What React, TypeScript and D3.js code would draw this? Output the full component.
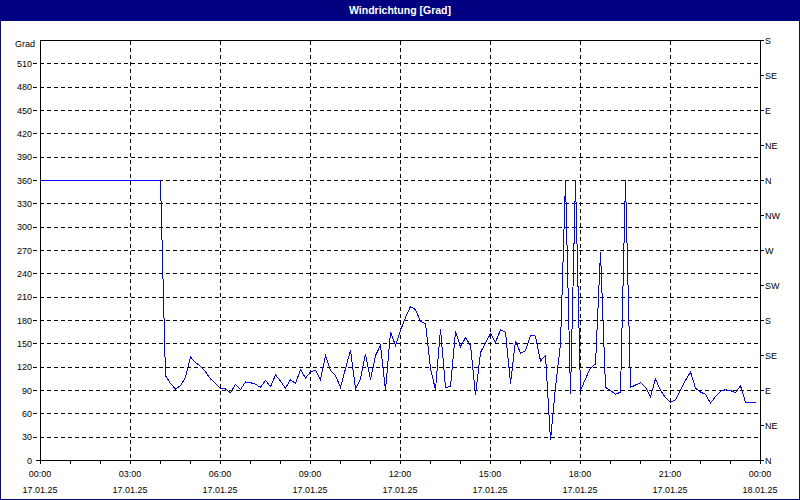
import React from "react";
import * as d3 from "d3";

const W = 800;
const H = 500;

const title = "Windrichtung [Grad]";
const unitLabel = "Grad";
const startTime = new Date(2025, 0, 17, 0, 0);
const endTime = new Date(2025, 0, 18, 0, 0);
const sampleMinutes = 10;

// wind direction in degrees, one value every 10 minutes from 00:00
const directionValues: number[] = [
  360, 360, 360, 360, 360, 360, 360, 360, 360, 360, 360, 360, 360, 360, 360, 360, 360, 360, 360, 360, 360, 360, 360, 360, 360,
  109, 99, 92, 96, 107, 133, 126, 121, 114, 105, 99, 93, 92, 87, 98, 91, 101, 100, 98, 94, 103, 95, 110, 102, 93,
  104, 99, 117, 106, 114, 116, 104, 135, 116, 109, 94, 118, 142, 92, 105, 137, 104, 135, 148, 90, 165, 148, 167, 184, 198,
  194, 179, 176, 118, 91, 169, 94, 95, 166, 146, 158, 148, 84, 139, 151, 163, 152, 168, 165, 99, 154, 138, 141, 161, 160,
  128, 135, 26, 94, 150, 360, 86, 360, 90, 105, 119, 124, 268, 94, 90, 85, 88, 360, 94, 97, 100, 94, 82, 105, 90,
  81, 75, 78, 91, 103, 114, 93, 88, 85, 74, 82, 89, 91, 90, 87, 96, 75, 74, 74,
];

const leftTicks: number[] = [0, 30, 60, 90, 120, 150, 180, 210, 240, 270, 300, 330, 360, 390, 420, 450, 480, 510];
const rightTickValues: number[] = [0, 45, 90, 135, 180, 225, 270, 315, 360, 405, 450, 495, 540];
const rightTickLabels: string[] = ["N", "NE", "E", "SE", "S", "SW", "W", "NW", "N", "NE", "E", "SE", "S"];
const timeLabels: string[] = ["00:00", "03:00", "06:00", "09:00", "12:00", "15:00", "18:00", "21:00", "00:00"];
const dateLabels: string[] = ["17.01.25", "17.01.25", "17.01.25", "17.01.25", "17.01.25", "17.01.25", "17.01.25", "17.01.25", "18.01.25"];

const FONT = "'Liberation Sans', Arial, sans-serif";

export default function App() {
  const x = d3.scaleTime().domain([startTime, endTime]).range([40, 760]);
  const y = d3.scaleLinear().domain([0, 540]).range([460, 40]);

  const points = directionValues.map((v, i) => ({
    t: d3.timeMinute.offset(startTime, i * sampleMinutes),
    v,
  }));
  const line = d3
    .line<{ t: Date; v: number }>()
    .x((d) => x(d.t) + 0.5)
    .y((d) => y(d.v) + 0.5);

  const majorTimes = d3.timeHour.every(3)!.range(startTime, d3.timeMinute.offset(endTime, 1));
  const minorTimes = d3.timeHour.range(startTime, d3.timeMinute.offset(endTime, 1));

  const px = (v: number) => Math.round(v) + 0.5;

  return (
    <div style={{ position: "fixed", left: 0, top: 0, width: W, height: H }}>
      <svg width={W} height={H} style={{ display: "block" }}>
        <rect x={0} y={0} width={W} height={H} fill="#ffffff" />
        {/* window frame */}
        <rect x={0.5} y={0.5} width={W - 1} height={H - 1} fill="none" stroke="#0a0a80" strokeWidth={1} />
        <rect x={0} y={0} width={W} height={21} fill="#000080" />
        <text
          x={W / 2}
          y={14}
          textAnchor="middle"
          fill="#ffffff"
          fontFamily={FONT}
          fontSize={10.5}
          fontWeight="bold"
        >
          {title}
        </text>

        {/* grid */}
        <g shapeRendering="crispEdges">
          {leftTicks
            .filter((t) => t > 0)
            .map((t) => (
              <line
                key={"hg" + t}
                x1={33}
                x2={760}
                y1={px(y(t))}
                y2={px(y(t))}
                stroke="#000"
                strokeDasharray="4,3"
              />
            ))}
          {majorTimes.slice(1, -1).map((t, i) => (
            <line
              key={"vg" + i}
              x1={px(x(t))}
              x2={px(x(t))}
              y1={41}
              y2={460}
              stroke="#000"
              strokeDasharray="4,3"
            />
          ))}
        </g>

        {/* data */}
        <path d={line(points) || ""} fill="none" stroke="#0000ff" strokeWidth={1} shapeRendering="crispEdges" />

        {/* frame */}
        <g shapeRendering="crispEdges" stroke="#000">
          <line x1={px(40)} x2={px(40)} y1={40} y2={461} />
          <line x1={px(760)} x2={px(760)} y1={40} y2={461} />
          <line x1={40} x2={761} y1={px(40)} y2={px(40)} />
          <line x1={36} x2={761} y1={px(460)} y2={px(460)} />
          {minorTimes.map((t, i) => (
            <line key={"mt" + i} x1={px(x(t))} x2={px(x(t))} y1={460} y2={464} />
          ))}
          {rightTickValues.map((v, i) => (
            <line key={"rt" + i} x1={760} x2={764} y1={px(y(v))} y2={px(y(v))} />
          ))}
        </g>

        {/* left labels */}
        <g fontFamily={FONT} fontSize={9} fill="#000" textAnchor="end">
          {leftTicks.map((t) => (
            <text key={"ll" + t} x={32} y={y(t) + 3.5}>
              {t}
            </text>
          ))}
          <text x={35} y={y(540) + 7}>
            {unitLabel}
          </text>
        </g>

        {/* right labels */}
        <g fontFamily={FONT} fontSize={9} fill="#000" textAnchor="start">
          {rightTickValues.map((v, i) => (
            <text key={"rl" + i} x={765} y={y(v) + 3.5}>
              {rightTickLabels[i]}
            </text>
          ))}
        </g>

        {/* bottom labels */}
        <g fontFamily={FONT} fontSize={9} fill="#000" textAnchor="middle">
          {majorTimes.map((t, i) => (
            <g key={"bl" + i}>
              <text x={x(t)} y={476.5}>
                {timeLabels[i]}
              </text>
              <text x={x(t)} y={492.5}>
                {dateLabels[i]}
              </text>
            </g>
          ))}
        </g>
      </svg>
    </div>
  );
}
